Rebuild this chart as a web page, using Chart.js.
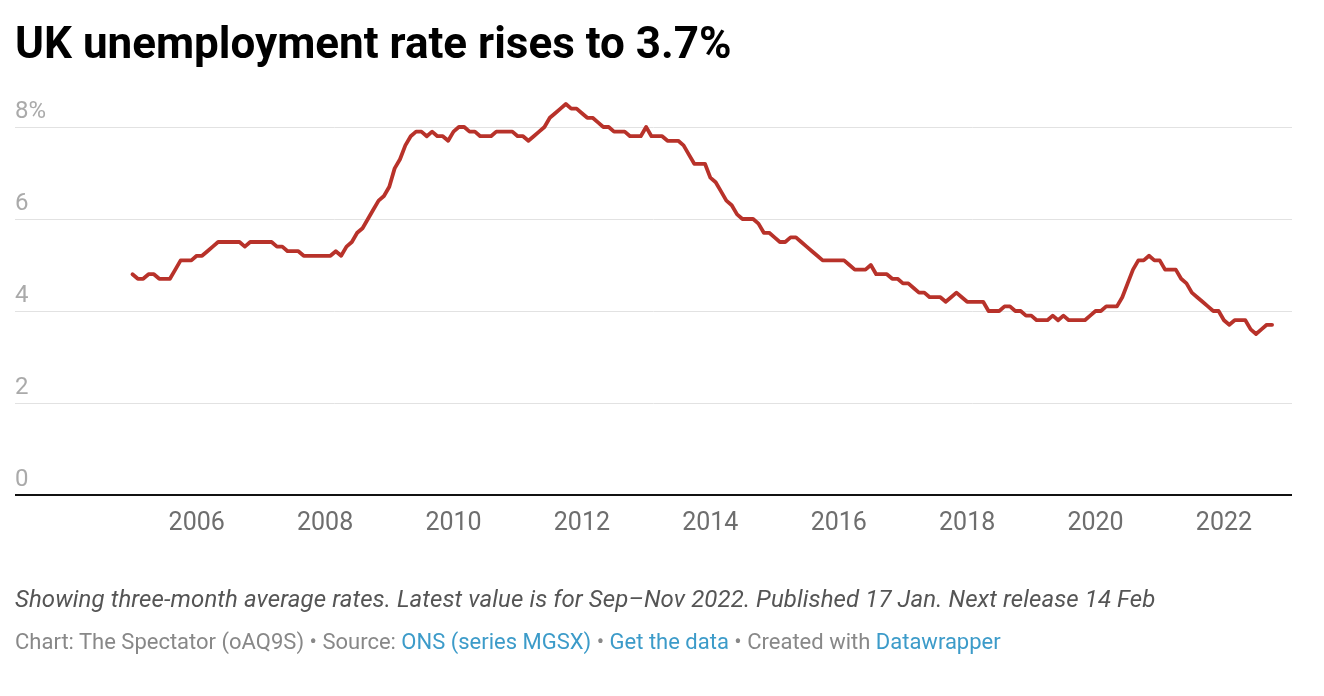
<!DOCTYPE html>
<html>
<head>
<meta charset="utf-8">
<script src="https://cdn.jsdelivr.net/npm/chart.js@4.4.0/dist/chart.umd.min.js"></script>
<style>
  html, body { margin: 0; padding: 0; background: #fff; }
  body { width: 1324px; height: 696px; position: relative; overflow: hidden; font-family: Roboto, "Noto Sans", sans-serif; }
  #wrap { position: absolute; left: 0; top: 0; width: 1324px; height: 696px; }
  h1 { position: absolute; left: 15px; top: 18px; margin: 0; font-size: 44px; line-height: 50px; font-weight: 700; color: #000; }
  .note { position: absolute; left: 15px; top: 585px; font-size: 24px; line-height: 28px; font-style: italic; color: #555; letter-spacing: 0.1px; }
  .source { position: absolute; left: 15px; top: 628px; font-size: 22px; line-height: 28px; color: #888; }
  .source a { color: #3c9bc9; text-decoration: none; }
</style>
</head>
<body>
<div id="wrap"><canvas id="chart"></canvas></div>
<h1>UK unemployment rate rises to 3.7%</h1>
<div class="note">Showing three-month average rates. Latest value is for Sep–Nov 2022. Published 17 Jan. Next release 14 Feb</div>
<div class="source">Chart: The Spectator (oAQ9S) • Source: <a>ONS (series MGSX)</a> • <a>Get the data</a> • Created with <a>Datawrapper</a></div>
<script>
// monthly three-month average unemployment rate (%), centred month, Jan 2005 onwards
var startYear = 2005;
var rate2005 = [4.8, 4.7, 4.7, 4.8, 4.8, 4.7, 4.7, 4.7, 4.9, 5.1, 5.1, 5.1];
var rate2006 = [5.2, 5.2, 5.3, 5.4, 5.5, 5.5, 5.5, 5.5, 5.5, 5.4, 5.5, 5.5];
var rate2007 = [5.5, 5.5, 5.5, 5.4, 5.4, 5.3, 5.3, 5.3, 5.2, 5.2, 5.2, 5.2];
var rate2008 = [5.2, 5.2, 5.3, 5.2, 5.4, 5.5, 5.7, 5.8, 6.0, 6.2, 6.4, 6.5];
var rate2009 = [6.7, 7.1, 7.3, 7.6, 7.8, 7.9, 7.9, 7.8, 7.9, 7.8, 7.8, 7.7];
var rate2010 = [7.9, 8.0, 8.0, 7.9, 7.9, 7.8, 7.8, 7.8, 7.9, 7.9, 7.9, 7.9];
var rate2011 = [7.8, 7.8, 7.7, 7.8, 7.9, 8.0, 8.2, 8.3, 8.4, 8.5, 8.4, 8.4];
var rate2012 = [8.3, 8.2, 8.2, 8.1, 8.0, 8.0, 7.9, 7.9, 7.9, 7.8, 7.8, 7.8];
var rate2013 = [8.0, 7.8, 7.8, 7.8, 7.7, 7.7, 7.7, 7.6, 7.4, 7.2, 7.2, 7.2];
var rate2014 = [6.9, 6.8, 6.6, 6.4, 6.3, 6.1, 6.0, 6.0, 6.0, 5.9, 5.7, 5.7];
var rate2015 = [5.6, 5.5, 5.5, 5.6, 5.6, 5.5, 5.4, 5.3, 5.2, 5.1, 5.1, 5.1];
var rate2016 = [5.1, 5.1, 5.0, 4.9, 4.9, 4.9, 5.0, 4.8, 4.8, 4.8, 4.7, 4.7];
var rate2017 = [4.6, 4.6, 4.5, 4.4, 4.4, 4.3, 4.3, 4.3, 4.2, 4.3, 4.4, 4.3];
var rate2018 = [4.2, 4.2, 4.2, 4.2, 4.0, 4.0, 4.0, 4.1, 4.1, 4.0, 4.0, 3.9];
var rate2019 = [3.9, 3.8, 3.8, 3.8, 3.9, 3.8, 3.9, 3.8, 3.8, 3.8, 3.8, 3.9];
var rate2020 = [4.0, 4.0, 4.1, 4.1, 4.1, 4.3, 4.6, 4.9, 5.1, 5.1, 5.2, 5.1];
var rate2021 = [5.1, 4.9, 4.9, 4.9, 4.7, 4.6, 4.4, 4.3, 4.2, 4.1, 4.0, 4.0];
var rate2022 = [3.8, 3.7, 3.8, 3.8, 3.8, 3.6, 3.5, 3.6, 3.7, 3.7];

var yearTicks = [2006, 2008, 2010, 2012, 2014, 2016, 2018, 2020, 2022];
var rateTicks = [0, 2, 4, 6, 8];

var allYears = [rate2005, rate2006, rate2007, rate2008, rate2009, rate2010, rate2011, rate2012, rate2013,
    rate2014, rate2015, rate2016, rate2017, rate2018, rate2019, rate2020, rate2021, rate2022];

var points = [];
allYears.forEach(function (months, n) {
    months.forEach(function (v, m) {
        points.push({ x: startYear + n + m / 12, y: v });
    });
});

var canvas = document.getElementById('chart');
canvas.width = 1324;
canvas.height = 696;

new Chart(canvas.getContext('2d'), {
    type: 'line',
    data: {
        datasets: [{
            data: points,
            borderColor: '#b8322a',
            borderWidth: 3.8,
            pointRadius: 0,
            tension: 0,
            borderJoinStyle: 'round',
            borderCapStyle: 'round'
        }]
    },
    options: {
        responsive: false,
        animation: false,
        layout: { padding: { top: 81, left: 15, right: 32, bottom: 143 } },
        plugins: { legend: { display: false }, tooltip: { enabled: false } },
        scales: {
            x: {
                type: 'linear',
                min: 2003.17,
                max: 2023.06,
                afterBuildTicks: function (axis) {
                    axis.ticks = yearTicks.map(function (v) { return { value: v }; });
                },
                ticks: {
                    callback: function (v) { return String(v); },
                    color: '#6e6e6e',
                    font: { family: 'Roboto', size: 25 },
                    padding: 14,
                    maxRotation: 0,
                    autoSkip: false
                },
                grid: { display: false, drawTicks: false },
                border: { display: false }
            },
            y: {
                min: 0,
                max: 9,
                afterBuildTicks: function (axis) {
                    axis.ticks = rateTicks.map(function (v) { return { value: v }; });
                },
                ticks: {
                    mirror: true,
                    padding: 0,
                    labelOffset: -15,
                    color: '#aaaaaa',
                    font: { family: 'Roboto', size: 24 },
                    callback: function (v) { return v === 8 ? '8%' : String(v); }
                },
                grid: {
                    drawTicks: false,
                    color: function (c) { return c.tick && c.tick.value === 0 ? '#111' : '#e2e2e2'; },
                    lineWidth: function (c) { return c.tick && c.tick.value === 0 ? 2 : 1; }
                },
                border: { display: false }
            }
        }
    }
});
</script>
</body>
</html>
